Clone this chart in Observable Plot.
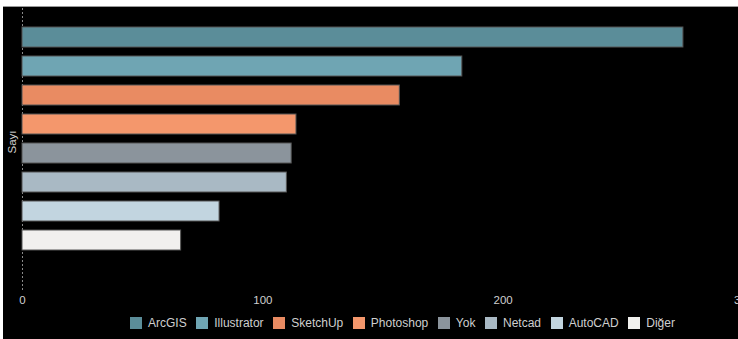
<!DOCTYPE html>
<html>
<head>
<meta charset="utf-8">
<script src="https://cdn.jsdelivr.net/npm/d3@7"></script>
<script src="https://cdn.jsdelivr.net/npm/@observablehq/plot@0.6"></script>
<style>
  html, body { margin: 0; padding: 0; background: #fff; }
  #wrap { position: absolute; left: 3px; top: 6px; width: 735px; height: 333px; background: #000; overflow: hidden; border-top: 1px solid #999; box-sizing: border-box; }
  #wrap > div span { margin-right: 0.8em; }
</style>
</head>
<body>
<div id="wrap"></div>
<script>
const categories = ["ArcGIS", "Illustrator", "SketchUp", "Photoshop", "Yok", "Netcad", "AutoCAD", "Diğer"];
const values = [275, 183, 157, 114, 112, 110, 82, 66];
const colors = ["#5b8d99", "#6fa5b3", "#e98b62", "#f4976c", "#8b949c", "#a9b9c4", "#c2d5e0", "#f1f0ee"];
const xTicks = [0, 100, 200, 300];
const axisLabel = "Sayı";

const data = categories.map((c, i) => ({tool: c, count: values[i]}));
const font = "'Liberation Sans', Arial, sans-serif";

const chart = Plot.plot({
  width: 735,
  height: 299,
  marginLeft: 19,
  marginRight: -5,
  marginTop: 1,
  marginBottom: 15,
  style: {background: "#000", color: "#cfcfcf", fontFamily: font, fontSize: "11.5px", overflow: "visible"},
  x: {domain: [0, 300]},
  y: {domain: categories, range: [8, 255], padding: 0.3, axis: null},
  color: {domain: categories, range: colors},
  marks: [
    Plot.ruleX([0], {stroke: "#888", strokeDasharray: "2,2", strokeWidth: 1}),
    Plot.barX(data, {x: "count", y: "tool", fill: "tool", stroke: "#555", strokeWidth: 1}),
    Plot.axisX({ticks: xTicks, tickSize: 0, tickPadding: 4, label: null, fill: "#cfcfcf"}),
    Plot.text([axisLabel], {frameAnchor: "left", textAnchor: "middle", lineAnchor: "middle", rotate: -90, dx: -10, dy: -8, fill: "#cfcfcf", fontSize: 11.5})
  ]
});
document.getElementById("wrap").appendChild(chart);

const legend = Plot.legend({
  color: {domain: categories, range: colors},
  swatchSize: 12,
  style: {color: "#cfcfcf", fontFamily: font, fontSize: "12px", marginLeft: "127px", background: "transparent"}
});
document.getElementById("wrap").appendChild(legend);
</script>
</body>
</html>
